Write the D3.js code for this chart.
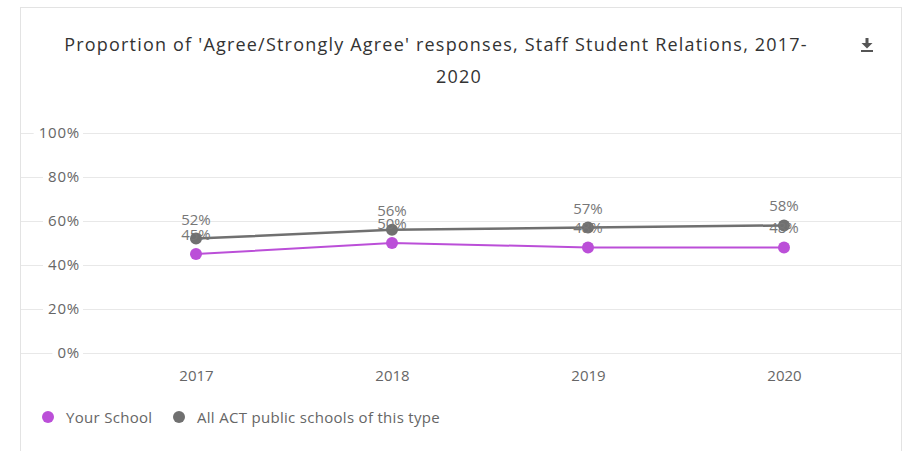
<!DOCTYPE html>
<html><head><meta charset="utf-8">
<script src="https://cdn.jsdelivr.net/npm/d3@7"></script>
<style>
html,body{margin:0;padding:0;background:#fff;}
svg{display:block;font-family:"Open Sans",sans-serif;}
</style></head>
<body><svg id="c" width="906" height="451"></svg>
<script>
const years = ["2017","2018","2019","2020"];
const yourSchool = [45, 50, 48, 48];
const allSchools = [52, 56, 57, 58];
const yTicks = [0, 20, 40, 60, 80, 100];
const seriesNames = ["Your School", "All ACT public schools of this type"];
const seriesColors = ["#bb4fd8", "#707070"];
const titleLines = ["Proportion of 'Agree/Strongly Agree' responses, Staff Student Relations, 2017-", "2020"];

const svg = d3.select("#c");
// card
svg.append("rect").attr("x",20.5).attr("y",7.5).attr("width",881).attr("height",460)
  .attr("fill","#fff").attr("stroke","#e3e3e3");

const x = d3.scalePoint().domain(years).range([196, 784]);
const y = d3.scaleLinear().domain([0,100]).range([353, 133]);

// title
svg.append("text").attr("x",436).attr("y",51).attr("text-anchor","middle")
  .attr("font-size",18).attr("letter-spacing",1.2).attr("fill","#333").text(titleLines[0]);
svg.append("text").attr("x",459).attr("y",83).attr("text-anchor","middle")
  .attr("font-size",18).attr("letter-spacing",1.2).attr("fill","#333").text(titleLines[1]);

// download icon
const ic = svg.append("g").attr("fill","#555");
ic.append("rect").attr("x",865.5).attr("y",38).attr("width",3).attr("height",6);
ic.append("path").attr("d","M861.5,43 L872.5,43 L867,48.5 Z");
ic.append("rect").attr("x",861).attr("y",50).attr("width",12).attr("height",2);

// grid
const grid = svg.append("g");
yTicks.forEach(t=>{
  grid.append("line").attr("x1",21).attr("x2",901).attr("y1",y(t)+0.5).attr("y2",y(t)+0.5)
    .attr("stroke","#e8e8e8").attr("stroke-width",1);
});
// y labels with white background
const yAxis = d3.axisLeft(y).tickValues(yTicks).tickFormat(d=>d+"%").tickSize(0).tickPadding(0);
const ga = svg.append("g").attr("transform","translate(80,0)").call(yAxis);
ga.select(".domain").remove();
ga.selectAll("text").attr("font-size",15).attr("letter-spacing",0.8).attr("fill","#666").attr("font-family","Open Sans");
ga.selectAll(".tick").each(function(){
  const t = d3.select(this).select("text");
  const bb = t.node().getBBox();
  d3.select(this).insert("rect","text").attr("x",bb.x-5).attr("y",bb.y).attr("width",bb.width+8).attr("height",bb.height).attr("fill","#fff");
});

// x axis
const xAxis = d3.axisBottom(x).tickSize(0).tickPadding(0);
const gx = svg.append("g").attr("transform","translate(0,370)").call(xAxis);
gx.select(".domain").remove();
gx.selectAll("text").attr("font-size",15).attr("fill","#666").attr("font-family","Open Sans");

const line = d3.line().x((d,i)=>x(years[i])).y(d=>y(d));
const data = [yourSchool, allSchools];
data.forEach((s,k)=>{
  svg.append("path").datum(s).attr("d",line).attr("fill","none")
    .attr("stroke",seriesColors[k]).attr("stroke-width",k===1?2.5:2);
  svg.selectAll(null).data(s).enter().append("circle")
    .attr("cx",(d,i)=>x(years[i])).attr("cy",d=>y(d)).attr("r",6).attr("fill",seriesColors[k]);
});
data.forEach((s,k)=>{
  svg.selectAll(null).data(s).enter().append("text")
    .attr("x",(d,i)=>x(years[i])).attr("y",d=>y(d)-14).attr("text-anchor","middle")
    .attr("font-size",15).attr("fill","#777").text(d=>d+"%");
});

// legend
const lg = svg.append("g");
const legX = [48, 179];
seriesNames.forEach((n,k)=>{
  lg.append("circle").attr("cx",legX[k]).attr("cy",417).attr("r",6).attr("fill",seriesColors[k]);
  lg.append("text").attr("x",legX[k]+18).attr("y",422.5).attr("font-size",15).attr("letter-spacing",0.3).attr("fill","#666").text(n);
});
</script></body></html>
